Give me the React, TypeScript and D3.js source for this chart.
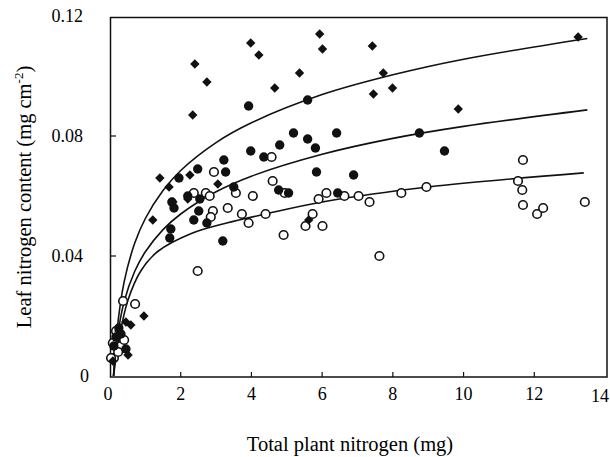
import React, { Component, createRef } from 'react';
import * as d3 from 'd3';

// filled diamonds
const diamonds: [number, number][] = [
  [2.40, 0.104], [2.74, 0.098], [2.34, 0.087], [3.98, 0.111], [4.21, 0.107],
  [4.66, 0.096], [5.36, 0.101], [5.93, 0.114], [6.01, 0.109], [7.42, 0.110],
  [7.73, 0.101], [7.45, 0.094], [7.99, 0.096], [9.85, 0.089], [13.24, 0.113],
  [1.41, 0.066], [2.26, 0.067], [3.05, 0.064], [1.67, 0.063], [1.21, 0.052],
  [0.96, 0.020], [2.20, 0.059], [5.62, 0.052], [1.78, 0.058], [0.45, 0.018],
  [0.59, 0.017], [0.51, 0.007], [0.25, 0.015], [0.08, 0.005],
];

// filled circles
const filled: [number, number][] = [
  [3.92, 0.090], [5.59, 0.092], [5.19, 0.081], [5.59, 0.079], [5.81, 0.076],
  [6.41, 0.081], [3.98, 0.075], [4.80, 0.077], [4.35, 0.073], [3.22, 0.072],
  [3.27, 0.068], [5.84, 0.068], [2.48, 0.069], [1.95, 0.066], [8.75, 0.081],
  [9.46, 0.075], [6.89, 0.067], [6.44, 0.061], [4.77, 0.062], [5.05, 0.061],
  [1.75, 0.058], [1.81, 0.056], [2.20, 0.060], [2.54, 0.059], [2.51, 0.055],
  [2.37, 0.052], [2.74, 0.051], [1.72, 0.049], [1.69, 0.046], [3.19, 0.045],
  [3.50, 0.063], [0.17, 0.013], [0.31, 0.014], [0.45, 0.009], [0.25, 0.016],
  [0.11, 0.010],
];

// open circles
const open: [number, number][] = [
  [6.63, 0.060], [7.03, 0.060], [7.34, 0.058], [8.24, 0.061], [8.95, 0.063],
  [11.68, 0.072], [11.54, 0.065], [11.66, 0.062], [11.68, 0.057], [12.08, 0.054],
  [12.25, 0.056], [13.43, 0.058], [7.62, 0.040], [4.60, 0.065], [4.94, 0.061],
  [3.56, 0.061], [4.04, 0.060], [3.33, 0.056], [3.73, 0.054], [3.92, 0.051],
  [4.40, 0.054], [4.91, 0.047], [5.73, 0.054], [5.53, 0.050], [6.01, 0.050],
  [5.90, 0.059], [6.12, 0.061], [2.94, 0.068], [4.57, 0.073], [2.37, 0.061],
  [2.71, 0.061], [2.82, 0.060], [2.91, 0.055], [2.85, 0.053], [2.48, 0.035],
  [0.71, 0.024], [0.37, 0.025], [0.17, 0.015], [0.08, 0.011], [0.11, 0.006],
  [0.31, 0.010], [0.40, 0.012], [0.23, 0.008], [0.03, 0.006],
];

// fitted curves
const curveTop: [number, number][] = [
  [0.1, 0], [0.2, 0.0154], [0.4, 0.0314], [0.7, 0.0443], [1, 0.0525], [1.5, 0.0618],
  [2, 0.0685], [3, 0.0778], [4, 0.0844], [6, 0.0938], [8, 0.1004], [10, 0.1056], [13.5, 0.1125],
];
const curveMid: [number, number][] = [
  [0.1, 0], [0.2, 0.0122], [0.4, 0.0248], [0.7, 0.0349], [1, 0.0414], [1.5, 0.0488],
  [2, 0.054], [3, 0.0614], [4, 0.0666], [6, 0.0739], [8, 0.0792], [10, 0.0832], [13.5, 0.0887],
];
const curveLow: [number, number][] = [
  [0.1, 0], [0.25, 0.012], [0.5, 0.025], [0.87, 0.035], [1.35, 0.0415], [2.3, 0.0475],
  [3.3, 0.051], [4.4, 0.054], [6, 0.058], [9, 0.063], [13.4, 0.0677],
];

const xTicks = [0, 2, 4, 6, 8, 10, 12, 14];
const yTicks = [0, 0.04, 0.08, 0.12];

class App extends Component {
  svgRef = createRef<SVGSVGElement>();
  width = 610;
  height = 457;

  componentDidMount() {
    this.drawChart();
  }

  drawChart() {
    const svg = d3.select(this.svgRef.current);
    svg.selectAll('*').remove();

    const x = d3.scaleLinear().domain([0, 14]).range([110, 605]);
    const y = d3.scaleLinear().domain([0, 0.12]).range([376, 16]);
    const font = '"Liberation Serif", "Times New Roman", serif';

    // frame
    svg.append('rect')
      .attr('x', 110.5).attr('y', 17.5)
      .attr('width', 607 - 110.5).attr('height', 377 - 17.5)
      .attr('fill', 'none').attr('stroke', '#111').attr('stroke-width', 1.5);

    // ticks
    svg.append('g').selectAll('line')
      .data(xTicks.slice(1, -1))
      .enter().append('line')
        .attr('x1', d => x(d)).attr('x2', d => x(d))
        .attr('y1', 377).attr('y2', 372)
        .attr('stroke', '#111').attr('stroke-width', 1.2);
    svg.append('g').selectAll('line')
      .data(yTicks.slice(1, -1))
      .enter().append('line')
        .attr('x1', 110).attr('x2', 116)
        .attr('y1', d => y(d)).attr('y2', d => y(d))
        .attr('stroke', '#111').attr('stroke-width', 1.2);

    // tick labels
    svg.append('g').selectAll('text')
      .data(xTicks)
      .enter().append('text')
        .attr('x', d => (d === 14 ? 600 : x(d) - (d === 0 ? 2 : 0)))
        .attr('y', d => (d === 14 ? 402 : 400))
        .attr('text-anchor', 'middle')
        .style('font-family', font).style('font-size', '18px')
        .text(d => d);
    svg.append('g').selectAll('text')
      .data(yTicks)
      .enter().append('text')
        .attr('x', d => (d === 0 ? 89 : 83))
        .attr('y', d => y(d) + 6)
        .attr('text-anchor', 'end')
        .style('font-family', font).style('font-size', '18px')
        .text(d => (d === 0 ? '0' : d3.format('.2f')(d)));

    // axis titles
    svg.append('text')
      .attr('x', 350).attr('y', 451)
      .attr('text-anchor', 'middle')
      .style('font-family', font).style('font-size', '20.5px')
      .text('Total plant nitrogen (mg)');
    const yt = svg.append('text')
      .attr('transform', 'translate(31, 197) rotate(-90)')
      .attr('text-anchor', 'middle')
      .style('font-family', font).style('font-size', '20.5px');
    yt.append('tspan').text('Leaf nitrogen content (mg cm');
    yt.append('tspan').attr('dy', -8).style('font-size', '13px').text('-2');
    yt.append('tspan').attr('dy', 8).text(')');

    // curves
    const line = d3.line<[number, number]>()
      .x(d => x(d[0])).y(d => y(d[1]))
      .curve(d3.curveCatmullRom.alpha(0.5));
    svg.append('g').selectAll('path')
      .data([curveTop, curveMid, curveLow])
      .enter().append('path')
        .attr('d', d => line(d))
        .attr('fill', 'none').attr('stroke', '#111').attr('stroke-width', 1.6);

    // points
    svg.append('g').selectAll('circle')
      .data(open)
      .enter().append('circle')
        .attr('cx', d => x(d[0])).attr('cy', d => y(d[1])).attr('r', 4.3)
        .attr('fill', '#fff').attr('stroke', '#111').attr('stroke-width', 1.6);
    svg.append('g').selectAll('circle')
      .data(filled)
      .enter().append('circle')
        .attr('cx', d => x(d[0])).attr('cy', d => y(d[1])).attr('r', 4.7)
        .attr('fill', '#111');
    const diamond = d3.symbol().type(d3.symbolSquare).size(44);
    svg.append('g').selectAll('path')
      .data(diamonds)
      .enter().append('path')
        .attr('d', diamond())
        .attr('transform', d => `translate(${x(d[0])}, ${y(d[1])}) rotate(45)`)
        .attr('fill', '#111');
  }

  render() {
    return (
      <svg
        ref={this.svgRef}
        width={this.width}
        height={this.height}
        style={{ position: 'absolute', left: 0, top: 0, background: '#fff' }}
      />
    );
  }
}

export default App;
